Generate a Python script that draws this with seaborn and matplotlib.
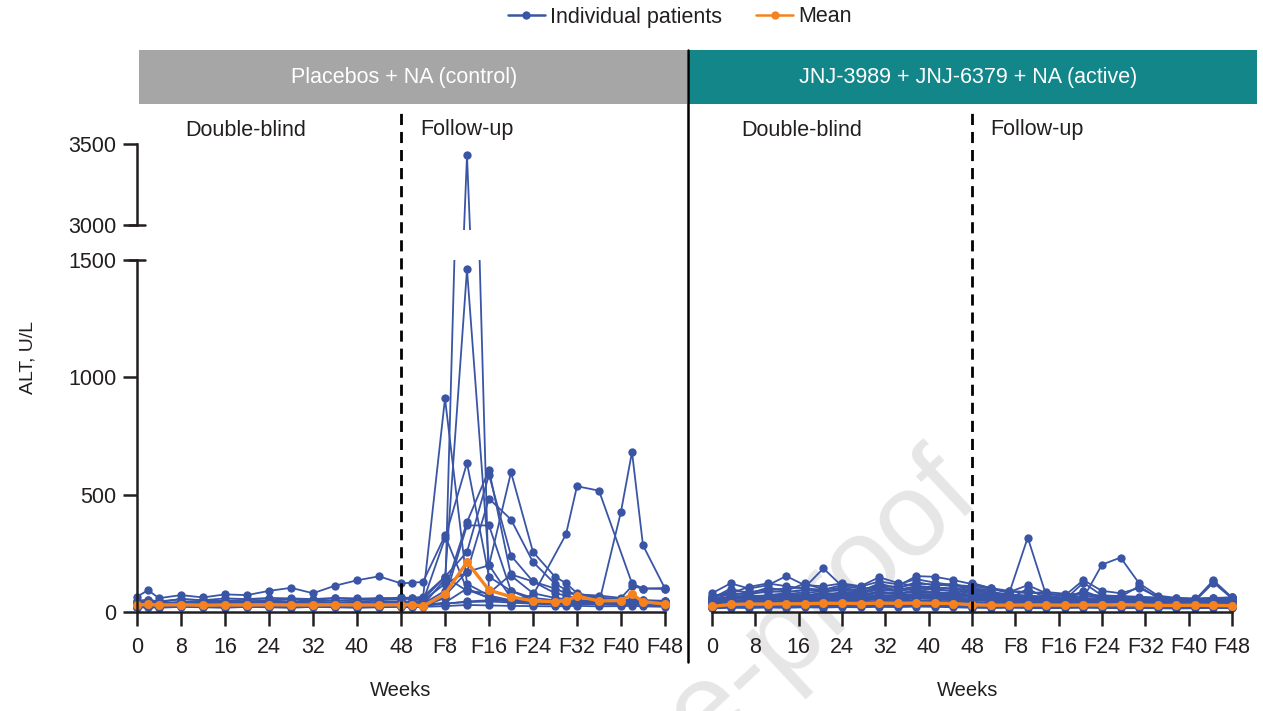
import numpy as np
import pandas as pd
import matplotlib
matplotlib.use('Agg')
import matplotlib.pyplot as plt
from matplotlib.lines import Line2D
from matplotlib.patches import Rectangle
import seaborn as sns

nan = np.nan

# visit weeks (F-weeks are 48 + follow-up week)
ctrl_weeks = [0, 2, 4, 8, 12, 16, 20, 24, 28, 32, 36, 40, 44, 48, 50, 52,
              56, 60, 64, 68, 72, 76, 78, 80, 84, 88, 90, 92, 96]
act_weeks = [0, 3.43, 6.86, 10.29, 13.71, 17.14, 20.57, 24, 27.43, 30.86, 34.29,
             37.71, 41.14, 44.57, 48, 51.43, 54.86, 58.29, 61.71, 65.14, 68.57,
             72, 75.43, 78.86, 82.29, 85.71, 89.14, 92.57, 96]

tick_pos = [0, 8, 16, 24, 32, 40, 48, 56, 64, 72, 80, 88, 96]
tick_lab = ['0', '8', '16', '24', '32', '40', '48', 'F8', 'F16', 'F24', 'F32', 'F40', 'F48']

# control arm, ALT U/L per patient
ctrl_p01 = [65, 93, 59, 72, 62, 75, 72, 90, 103, 80, 112, 135, 152, 122, 125, 128, 326, 95, 60, 45, 40, 38, 35, 40, 38, 36, 40, 38, 35]
ctrl_p02 = [30, 28, 32, 35, 30, 32, 30, 35, 32, 30, 34, 32, 30, 33, 35, 40, 60, 3430, 70, 45, 40, 35, 35, 38, 35, 36, 34, 35, 33]
ctrl_p03 = [25, 22, 28, 30, 25, 26, 28, 24, 30, 28, 26, 30, 28, 25, 27, 30, 140, 1460, 200, 60, 45, 40, 38, 40, 36, 35, 38, 36, 34]
ctrl_p04 = [40, 45, 38, 42, 40, 45, 42, 48, 45, 50, 48, 52, 50, 55, 58, 60, 910, 120, 70, 50, 45, 42, 40, 45, 40, 42, 45, 40, 42]
ctrl_p05 = [35, 32, 38, 40, 36, 40, 38, 42, 40, 38, 40, 42, 38, 40, 42, 45, 314, 635, 150, 90, 60, 50, 48, 45, 42, 44, 40, 42, 40]
ctrl_p06 = [28, 30, 26, 30, 28, 32, 30, 34, 30, 32, 30, 34, 32, 30, 32, 35, 90, 383, 606, 155, 80, 60, 55, 50, 48, 46, 45, 44, 42]
ctrl_p07 = [45, 50, 42, 55, 50, 48, 52, 50, 55, 52, 58, 55, 60, 58, 55, 52, 150, 256, 585, 240, 130, 80, 70, 60, 55, 50, 48, 50, 45]
ctrl_p08 = [30, 32, 28, 32, 30, 34, 32, 30, 34, 32, 30, 34, 32, 30, 32, 35, 70, 171, 199, 595, 256, 150, 123, 80, 60, 55, 50, 48, 45]
ctrl_p09 = [20, 22, 20, 24, 22, 20, 24, 22, 20, 24, 22, 20, 22, 24, 22, 25, 60, 369, 369, 90, 50, 40, 38, 36, 35, 34, 36, 35, 32]
ctrl_p10 = [38, 40, 35, 42, 45, 40, 44, 48, 42, 46, 40, 44, 42, 46, 44, 48, 120, 170, 483, 394, 213, 120, 95, 70, 60, 55, 52, 50, 48]
ctrl_p11 = [22, 24, 20, 25, 22, 24, 22, 26, 24, 22, 25, 24, 22, 25, 24, 26, 35, 45, 50, 50, 72, nan, 331, 536, 517, nan, 122, 100, 102]
ctrl_p12 = [26, 28, 25, 27, 26, 28, 27, 29, 28, 27, 29, 28, 27, 29, 28, 30, 36, 42, 45, 40, 38, 36, 35, 37, 38, 428, 682, 284, 100]
ctrl_p13 = [48, 52, 45, 55, 50, 58, 55, 60, 58, 55, 60, 58, 55, 62, 60, 65, 150, 90, 80, 160, 130, 100, 80, 75, 70, 60, 110, 100, 98]
ctrl_p14 = [18, 20, 18, 22, 20, 18, 22, 20, 18, 22, 20, 18, 20, 22, 20, 22, 25, 30, 28, 26, 25, 24, 25, 26, 24, 25, 26, 24, 22]
ctrl_p15 = [26, 28, 24, 28, 26, 28, 26, 28, 30, 28, 26, 30, 28, 26, 28, 30, 40, 100, 60, 40, 35, 32, 30, 34, 32, 30, 32, 30, 28]
ctrl_mean = [30, 32, 30, 31, 29, 30, 30, 31, 30, 30, 31, 30, 30, 31, 31, 25, 76, 213, 93, 65, 47, 44, 48, 68, 47, 49, 76, 44, 34]

# active arm
act_p01 = [80, 122, 100, 114, 153, 114, 110, 122, 110, 148, 124, 110, 105, 100, 95, 80, 70, 65, 60, 58, 55, 60, 58, 55, 52, 50, 48, 50, 55]
act_p02 = [60, 90, 85, 95, 100, 105, 186, 110, 100, 105, 110, 153, 150, 136, 119, 102, 90, 85, 75, 70, 65, 70, 68, 60, 55, 50, 48, 52, 50]
act_p03 = [70, 80, 107, 122, 110, 100, 95, 115, 108, 130, 118, 140, 125, 115, 110, 100, 85, 114, 80, 70, 136, 90, 80, 102, 65, 55, 50, 130, 60]
act_p04 = [45, 55, 60, 58, 62, 65, 60, 68, 65, 70, 72, 75, 70, 68, 124, 102, 80, 317, 70, 60, 55, 60, 58, 55, 50, 48, 45, 50, 52]
act_p05 = [50, 60, 55, 62, 58, 65, 60, 70, 62, 68, 65, 72, 68, 70, 65, 60, 58, 55, 52, 50, 60, 202, 232, 122, 70, 60, 55, 60, 58]
act_p06 = [40, 70, 65, 72, 80, 75, 70, 85, 80, 95, 88, 100, 95, 90, 85, 75, 68, 60, 55, 52, 125, 70, 65, 110, 60, 55, 50, 135, 62]
act_p07 = [35, 50, 48, 55, 52, 60, 58, 62, 60, 65, 70, 68, 72, 75, 70, 65, 60, 58, 56, 54, 52, 55, 54, 52, 50, 48, 46, 125, 58]
act_p08 = [30, 40, 45, 42, 48, 45, 50, 52, 48, 55, 50, 58, 55, 50, 48, 52, 45, 60, 48, 45, 50, 48, 46, 44, 42, 40, 38, 40, 42]
act_p09 = [25, 35, 38, 40, 36, 42, 40, 45, 42, 48, 46, 50, 48, 45, 42, 40, 38, 36, 40, 38, 36, 38, 36, 35, 34, 32, 33, 34, 35]
act_p10 = [55, 65, 70, 68, 75, 72, 78, 80, 75, 85, 80, 90, 85, 80, 75, 70, 65, 60, 62, 58, 90, 60, 58, 56, 54, 52, 50, 55, 58]
act_p11 = [20, 25, 24, 26, 25, 28, 26, 30, 28, 30, 29, 32, 30, 28, 26, 25, 24, 26, 25, 24, 25, 26, 24, 23, 22, 22, 23, 24, 22]
act_p12 = [18, 22, 20, 24, 22, 24, 22, 26, 24, 25, 24, 28, 26, 24, 22, 20, 21, 22, 20, 21, 22, 20, 21, 22, 20, 19, 20, 21, 20]
act_p13 = [28, 32, 35, 34, 38, 36, 40, 42, 38, 44, 42, 46, 44, 42, 40, 38, 36, 35, 34, 33, 35, 34, 33, 32, 31, 30, 31, 32, 30]
act_p14 = [45, 58, 62, 70, 66, 72, 68, 75, 70, 80, 78, 85, 80, 76, 72, 65, 60, 55, 52, 50, 48, 46, 45, 44, 42, 40, 42, 44, 45]
act_p15 = [65, 75, 80, 85, 90, 82, 88, 92, 86, 100, 95, 110, 105, 98, 90, 82, 75, 70, 65, 62, 80, 65, 62, 60, 58, 55, 52, 58, 62]
act_p16 = [22, 28, 30, 32, 30, 34, 32, 36, 34, 38, 36, 40, 38, 36, 34, 32, 30, 28, 30, 28, 30, 28, 27, 26, 25, 26, 25, 26, 27]
act_p17 = [35, 45, 42, 48, 50, 55, 52, 58, 55, 62, 60, 65, 62, 58, 55, 50, 48, 45, 44, 42, 44, 42, 40, 38, 36, 35, 36, 38, 40]
act_p18 = [15, 18, 17, 19, 18, 20, 19, 21, 20, 22, 21, 23, 22, 20, 18, 17, 18, 17, 16, 17, 18, 17, 16, 17, 16, 15, 16, 17, 16]
act_p19 = [50, 80, 75, 90, 85, 95, 88, 100, 92, 115, 105, 120, 118, 110, 100, 95, 88, 80, 85, 78, 75, 70, 68, 65, 62, 60, 58, 60, 62]
act_p20 = [40, 48, 52, 58, 55, 62, 58, 65, 62, 72, 68, 78, 75, 70, 65, 60, 55, 100, 58, 55, 52, 50, 48, 46, 45, 44, 43, 44, 46]
act_p21 = [32, 62, 58, 66, 70, 64, 72, 78, 66, 88, 74, 96, 82, 78, 70, 58, 52, 50, 48, 46, 52, 48, 46, 50, 44, 42, 40, 46, 44]
act_p22 = [58, 100, 78, 104, 90, 122, 96, 104, 88, 122, 100, 128, 112, 120, 100, 86, 74, 68, 64, 60, 66, 64, 60, 58, 56, 54, 50, 56, 60]
act_p23 = [24, 36, 42, 46, 44, 50, 46, 54, 50, 58, 54, 60, 56, 54, 50, 46, 42, 40, 38, 36, 40, 38, 36, 34, 33, 32, 34, 36, 34]
act_p24 = [42, 54, 70, 60, 72, 68, 84, 70, 82, 108, 92, 106, 98, 88, 82, 72, 64, 58, 54, 52, 56, 54, 52, 50, 48, 46, 45, 48, 50]
act_p25 = [30, 46, 52, 50, 56, 54, 62, 60, 56, 66, 62, 70, 66, 62, 58, 54, 50, 48, 46, 44, 46, 44, 42, 40, 38, 37, 38, 40, 42]
act_mean = [24, 32, 34, 34, 35, 35, 37, 37, 36, 38, 37, 38, 37, 36, 31, 29, 29, 30, 30, 29, 30, 30, 31, 30, 28, 28, 29, 28, 27]

ctrl_patients = [ctrl_p01, ctrl_p02, ctrl_p03, ctrl_p04, ctrl_p05, ctrl_p06, ctrl_p07, ctrl_p08,
                 ctrl_p09, ctrl_p10, ctrl_p11, ctrl_p12, ctrl_p13, ctrl_p14, ctrl_p15]
act_patients = [act_p01, act_p02, act_p03, act_p04, act_p05, act_p06, act_p07, act_p08, act_p09, act_p10,
                act_p11, act_p12, act_p13, act_p14, act_p15, act_p16, act_p17, act_p18, act_p19, act_p20,
                act_p21, act_p22, act_p23, act_p24, act_p25]

BLUE = '#3A55A5'
ORANGE = '#F5821F'
INK = '#231F20'
W, H = 1263, 711
FS = 15.5


def long_df(weeks, patients):
    rows = []
    for pid, vals in enumerate(patients):
        for w, v in zip(weeks, vals):
            if not np.isnan(v):
                rows.append({'week': w, 'alt': v, 'patient': pid})
    return pd.DataFrame(rows)


def px_rect(l, t, r, b):
    return [l / W, 1 - b / H, (r - l) / W, (b - t) / H]


def draw_panel(ax, weeks, patients, mean):
    df = long_df(weeks, patients)
    sns.lineplot(data=df, x='week', y='alt', units='patient', estimator=None, color=BLUE,
                 marker='o', markersize=6, markeredgewidth=0, linewidth=1.3, legend=False, ax=ax)
    sns.lineplot(x=weeks, y=mean, color=ORANGE, marker='o', markersize=6.5, markeredgewidth=0,
                 linewidth=2.4, legend=False, ax=ax)
    for ln in ax.lines:
        ln.set_clip_path(Rectangle((-0.03, -0.06), 1.06, 1.06, transform=ax.transAxes))
    ax.set_xlim(0, 96)
    ax.set_xlabel('')
    ax.set_ylabel('')


sns.set_theme(style='white')
plt.rcParams['font.family'] = ['Liberation Sans', 'DejaVu Sans']

fig = plt.figure(figsize=(W / 100, H / 100), dpi=100)

ax_lo = fig.add_axes(px_rect(137, 260, 665, 612))
ax_hi = fig.add_axes(px_rect(137, 144, 665, 225))
ax_r = fig.add_axes(px_rect(712, 260, 1232, 612))
for a in (ax_lo, ax_hi, ax_r):
    a.set_facecolor('none')

draw_panel(ax_lo, ctrl_weeks, ctrl_patients, ctrl_mean)
draw_panel(ax_hi, ctrl_weeks, ctrl_patients, ctrl_mean)
draw_panel(ax_r, act_weeks, act_patients, act_mean)

ax_lo.set_ylim(0, 1500)
ax_r.set_ylim(0, 1500)
ax_hi.set_ylim(3000, 3500)

for a in (ax_lo, ax_r):
    a.set_xticks(tick_pos)
    a.set_xticklabels(tick_lab)
    a.tick_params(axis='x', length=10, width=1.8, color=INK, pad=8, labelsize=FS, labelcolor=INK, bottom=True)
    a.spines['bottom'].set_color(INK)
    a.spines['bottom'].set_linewidth(1.8)
    a.spines['top'].set_visible(False)
    a.spines['right'].set_visible(False)
    a.axvline(48, ymin=0, ymax=(612 - 107) / 352, color='black', lw=2, ls=(0, (4, 2.5)), clip_on=False)

ax_lo.set_yticks([0, 500, 1000, 1500])
ax_lo.tick_params(axis='y', length=10, width=1.8, color=INK, pad=5, labelsize=FS, labelcolor=INK, left=True)
ax_lo.spines['left'].set_color(INK)
ax_lo.spines['left'].set_linewidth(1.8)

ax_r.spines['left'].set_visible(False)
ax_r.set_yticks([])

ax_hi.set_xticks([])
ax_hi.set_yticks([3000, 3500])
ax_hi.tick_params(axis='y', length=10, width=1.8, color=INK, pad=5, labelsize=FS, labelcolor=INK, left=True)
for s in ('top', 'right', 'bottom'):
    ax_hi.spines[s].set_visible(False)
ax_hi.spines['left'].set_color(INK)
ax_hi.spines['left'].set_linewidth(1.8)

# break caps on the y axis
for yy in (225, 260):
    fig.add_artist(Line2D([129 / W, 145 / W], [1 - yy / H] * 2, color=INK, lw=1.8))

# header bars
fig.add_artist(Rectangle((139 / W, 1 - 104 / H), 548 / W, 54 / H, color='#A6A6A6', lw=0))
fig.add_artist(Rectangle((689 / W, 1 - 104 / H), 568 / W, 54 / H, color='#13868A', lw=0))
fig.text(404 / W, 1 - 78 / H, 'Placebos + NA (control)', color='white', fontsize=FS, ha='center', va='center')
fig.text(968 / W, 1 - 78 / H, 'JNJ-3989 + JNJ-6379 + NA (active)', color='white', fontsize=FS, ha='center', va='center')
fig.add_artist(Line2D([688 / W, 688 / W], [1 - 50 / H, 1 - 662 / H], color='black', lw=1.8))

for x, s in ((246, 'Double-blind'), (467, 'Follow-up'), (802, 'Double-blind'), (1037, 'Follow-up')):
    fig.text(x / W, 1 - 130 / H, s, color=INK, fontsize=FS, ha='center', va='center')

fig.text(28 / W, 1 - 357 / H, 'ALT, U/L', color=INK, fontsize=14, rotation=90, ha='center', va='center')
fig.text(401 / W, 1 - 690 / H, 'Weeks', color=INK, fontsize=14.5, ha='center', va='center')
fig.text(968 / W, 1 - 690 / H, 'Weeks', color=INK, fontsize=14.5, ha='center', va='center')

# watermark
fig.text(962 / W, 1 - 478 / H, 'Journal Pre-proof', color='#E6E6E6', fontsize=86, rotation=43,
         ha='right', va='center', rotation_mode='anchor', zorder=-5)

handles = [Line2D([], [], color=BLUE, marker='o', lw=1.8, ms=6, mew=0),
           Line2D([], [], color=ORANGE, marker='o', lw=1.8, ms=6, mew=0)]
fig.legend(handles, ['Individual patients', 'Mean'], loc='center', bbox_to_anchor=(680 / W, 1 - 17 / H),
           ncol=2, frameon=False, fontsize=FS, handlelength=1.7, handletextpad=0.25, columnspacing=1.6,
           labelcolor=INK)

fig.savefig('out.png', dpi=100)
